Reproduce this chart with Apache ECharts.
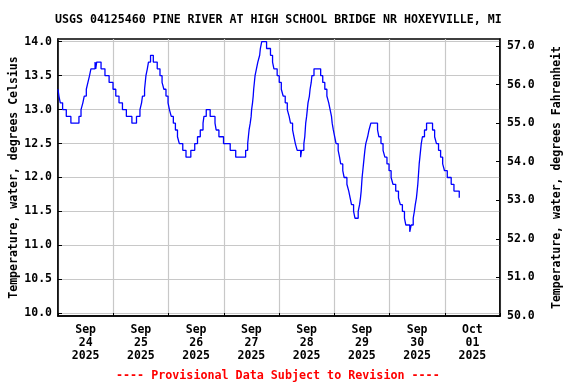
<!DOCTYPE html>
<html>
<head>
<meta charset="utf-8">
<script src="https://cdn.jsdelivr.net/npm/echarts@6/dist/echarts.min.js"></script>
<style>
html,body{margin:0;padding:0;background:#fff;}
#chart{width:576px;height:384px;}
</style>
</head>
<body>
<div id="chart"></div>
<script>
// Hours since 2025-09-24 00:00 at which the reading changes, and the reading (deg C) held from then on
var hoursSinceStart = [
  0.0, 0.4, 1.0, 2.0, 3.6, 5.6, 9.1, 10.0, 10.8, 11.4, 12.3, 13.0, 13.7, 14.3, 16.1, 16.4, 16.8,
  18.7, 20.4, 22.2, 23.9, 25.1, 26.5, 28.0, 29.7, 32.1, 34.1, 35.6, 36.3, 36.7, 37.6, 37.9, 38.2,
  38.8, 39.3, 40.2, 41.4, 43.1, 44.3, 45.2, 46.0, 46.9, 47.8, 48.4, 49.2, 50.1, 51.0, 51.9, 52.7,
  54.2, 55.6, 57.7, 59.4, 60.6, 61.8, 63.0, 63.4, 64.4, 66.1, 68.2, 68.7, 69.9, 71.9, 74.8, 77.2,
  81.5, 82.4, 82.7, 83.0, 83.5, 83.9, 84.1, 84.5, 84.8, 85.0, 85.3, 85.6, 86.2, 86.8, 87.6, 87.9,
  88.5, 90.6, 92.3, 93.2, 93.8, 95.2, 96.1, 97.0, 97.8, 98.7, 99.6, 100.4, 101.0, 101.9, 102.5,
  103.1, 103.9, 105.4, 105.8, 106.8, 107.2, 107.4, 107.6, 108.0, 108.3, 108.6, 109.2, 109.5, 110.0,
  110.3, 111.2, 114.1, 115.0, 115.9, 116.8, 117.6, 118.2, 118.8, 119.1, 119.6, 120.2, 120.8, 121.7,
  122.3, 122.8, 123.7, 124.3, 125.5, 126.3, 126.9, 127.5, 128.4, 129.0, 130.4, 131.0, 131.4, 131.7,
  131.9, 132.1, 132.4, 132.7, 133.0, 133.3, 133.7, 134.5, 135.1, 135.9, 138.8, 139.4, 140.3, 141.2,
  142.0, 142.9, 143.8, 144.7, 145.5, 146.7, 147.9, 148.7, 149.6, 150.5, 151.1, 152.8, 153.4, 154.3,
  154.8, 155.2, 155.7, 156.0, 156.3, 156.5, 156.7, 156.9, 157.2, 157.5, 157.8, 158.3, 159.2, 160.1,
  162.7, 163.6, 164.4, 165.3, 166.2, 167.1, 167.9, 169.1, 170.8, 172.0, 174.3
];
var tempC = [
  13.3, 13.2, 13.1, 13.0, 12.9, 12.8, 12.9, 13.0, 13.1, 13.2, 13.3, 13.4, 13.5, 13.6, 13.7, 13.6, 13.7,
  13.6, 13.5, 13.4, 13.3, 13.2, 13.1, 13.0, 12.9, 12.8, 12.9, 13.0, 13.1, 13.2, 13.3, 13.4, 13.5,
  13.6, 13.7, 13.8, 13.7, 13.6, 13.5, 13.4, 13.3, 13.2, 13.1, 13.0, 12.9, 12.8, 12.7, 12.6, 12.5,
  12.4, 12.3, 12.4, 12.5, 12.6, 12.7, 12.8, 12.9, 13.0, 12.9, 12.8, 12.7, 12.6, 12.5, 12.4, 12.3,
  12.4, 12.5, 12.6, 12.7, 12.8, 12.9, 13.0, 13.1, 13.2, 13.3, 13.4, 13.5, 13.6, 13.7, 13.8, 13.9,
  14.0, 13.9, 13.8, 13.7, 13.6, 13.5, 13.4, 13.3, 13.2, 13.1, 13.0, 12.9, 12.8, 12.7, 12.6,
  12.5, 12.4, 12.3, 12.4, 12.5, 12.6, 12.7, 12.8, 12.9, 13.0, 13.1, 13.2, 13.3, 13.4,
  13.5, 13.6, 13.5, 13.4, 13.3, 13.2, 13.1, 13.0, 12.9, 12.8, 12.7, 12.6, 12.5, 12.4,
  12.3, 12.2, 12.1, 12.0, 11.9, 11.8, 11.7, 11.6, 11.5, 11.4, 11.5, 11.6, 11.7, 11.8,
  11.9, 12.0, 12.1, 12.2, 12.3, 12.4, 12.5, 12.6, 12.7, 12.8, 12.7, 12.6, 12.5, 12.4,
  12.3, 12.2, 12.1, 12.0, 11.9, 11.8, 11.7, 11.6, 11.5, 11.4, 11.3, 11.2, 11.3, 11.4,
  11.5, 11.6, 11.7, 11.8, 11.9, 12.0, 12.1, 12.2, 12.3, 12.4, 12.5, 12.6, 12.7, 12.8,
  12.7, 12.6, 12.5, 12.4, 12.3, 12.2, 12.1, 12.0, 11.9, 11.8, 11.7
];
var dayLabels = ['Sep\n24\n2025', 'Sep\n25\n2025', 'Sep\n26\n2025', 'Sep\n27\n2025',
                 'Sep\n28\n2025', 'Sep\n29\n2025', 'Sep\n30\n2025', 'Oct\n01\n2025'];
var dayLabelHours = [12, 36, 60, 84, 108, 132, 156, 180];
var celsiusTicks = [10.0, 10.5, 11.0, 11.5, 12.0, 12.5, 13.0, 13.5, 14.0];
var fahrenheitTicks = [50, 51, 52, 53, 54, 55, 56, 57];
var titleText = 'USGS 04125460 PINE RIVER AT HIGH SCHOOL BRIDGE NR HOXEYVILLE, MI';
var footText = '---- Provisional Data Subject to Revision ----';

var FONT = '"DejaVu Sans Mono", "Liberation Mono", monospace';
var seriesData = hoursSinceStart.map(function (h, i) { return [h, tempC[i]]; });

var chart = echarts.init(document.getElementById('chart'), null, {renderer: 'canvas'});
chart.setOption({
  animation: false,
  backgroundColor: '#ffffff',
  title: [
    {text: titleText, left: 50, top: 9,
     textStyle: {fontFamily: FONT, fontSize: 11.6, fontWeight: 'bold', color: '#000'}},
    {text: footText, left: 111, top: 365,
     textStyle: {fontFamily: FONT, fontSize: 11.7, fontWeight: 'bold', color: '#ff0000'}}
  ],
  grid: {left: 58, right: 76, top: 39, bottom: 68, show: true, containLabel: false,
         outerBoundsMode: 'none',
         borderColor: '#000', borderWidth: 1.5, backgroundColor: 'transparent'},
  xAxis: {
    type: 'value', min: 0, max: 192, interval: 24,
    axisLine: {show: true, onZero: false, lineStyle: {color: '#000', width: 1.5}},
    axisTick: {show: true, inside: true, length: 3, lineStyle: {color: '#000'}},
    splitLine: {show: true, lineStyle: {color: '#c8c8c8', width: 1.2}},
    axisLabel: {
      customValues: dayLabelHours, margin: 8, lineHeight: 13,
      fontFamily: FONT, fontSize: 11.5, fontWeight: 'bold', color: '#000',
      formatter: function (v) { return dayLabels[Math.round((v - 12) / 24)]; }
    }
  },
  yAxis: [
    {
      type: 'value', position: 'left', min: 9.96, max: 14.04,
      name: 'Temperature, water, degrees Celsius', nameLocation: 'middle', nameGap: 38, nameRotate: 90,
      nameMoveOverlap: false,
      nameTextStyle: {fontFamily: FONT, fontSize: 11.5, fontWeight: 'bold', color: '#000'},
      axisLine: {show: true, lineStyle: {color: '#000', width: 1.5}},
      axisTick: {show: true, inside: true, length: 4, customValues: celsiusTicks, lineStyle: {color: '#000'}},
      splitLine: {show: true, lineStyle: {color: '#c8c8c8', width: 1.2}},
      axisLabel: {customValues: celsiusTicks, margin: 6,
        fontFamily: FONT, fontSize: 11.5, fontWeight: 'bold', color: '#000',
        formatter: function (v) { return v.toFixed(1); }}
    },
    {
      type: 'value', position: 'right', min: 50, max: 57.18,
      name: 'Temperature, water, degrees Fahrenheit', nameLocation: 'middle', nameGap: 51, nameRotate: 90,
      nameMoveOverlap: false,
      nameTextStyle: {fontFamily: FONT, fontSize: 11.5, fontWeight: 'bold', color: '#000'},
      axisLine: {show: true, lineStyle: {color: '#000', width: 1.5}},
      axisTick: {show: true, inside: true, length: 4, customValues: fahrenheitTicks, lineStyle: {color: '#000'}},
      splitLine: {show: false},
      axisLabel: {customValues: fahrenheitTicks, margin: 7,
        fontFamily: FONT, fontSize: 11.5, fontWeight: 'bold', color: '#000',
        formatter: function (v) { return v.toFixed(1); }}
    }
  ],
  series: [{
    type: 'line', yAxisIndex: 0, step: 'end', showSymbol: false, symbol: 'none',
    data: seriesData,
    lineStyle: {color: '#0000ff', width: 1.3},
    itemStyle: {color: '#0000ff'}
  }]
});
</script>
</body>
</html>
